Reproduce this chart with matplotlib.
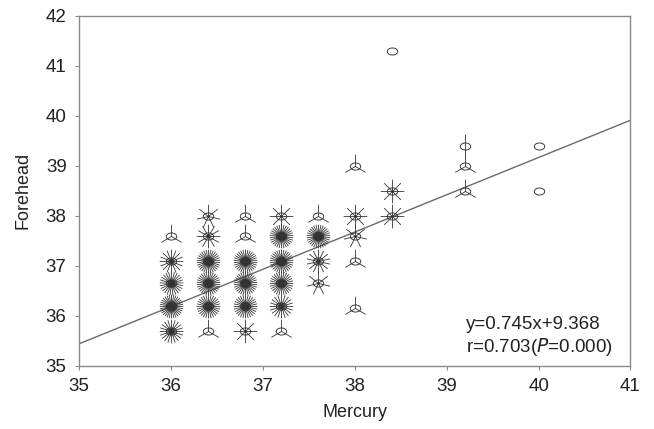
import numpy as np
import matplotlib
matplotlib.use("Agg")
import matplotlib.pyplot as plt
from matplotlib.path import Path

plt.rcParams["font.family"] = ["Liberation Sans", "DejaVu Sans"]

# sunflower cells: (mercury, forehead) and how many readings fall on each
mercury = [
    36.4, 36.8, 37.2, 37.6, 38.0, 38.4,
    36.0, 36.4, 36.8, 37.2, 37.6, 38.0,
    36.0, 36.4, 36.8, 37.2, 37.6, 38.0,
    36.0, 36.4, 36.8, 37.2, 37.6,
    36.0, 36.4, 36.8, 37.2, 38.0,
    36.0, 36.4, 36.8, 37.2,
    38.4, 39.2, 40.0,
    38.0, 39.2,
    39.2, 40.0,
    38.4,
]
forehead = [
    38.0, 38.0, 38.0, 38.0, 38.0, 38.0,
    37.6, 37.6, 37.6, 37.6, 37.6, 37.6,
    37.1, 37.1, 37.1, 37.1, 37.1, 37.1,
    36.65, 36.65, 36.65, 36.65, 36.65,
    36.2, 36.2, 36.2, 36.2, 36.15,
    35.7, 35.7, 35.7, 35.7,
    38.5, 38.5, 38.5,
    39.0, 39.0,
    39.4, 39.4,
    41.3,
]
counts = [
    7, 3, 8, 3, 8, 8,
    3, 12, 3, 30, 30, 7,
    16, 30, 30, 30, 14, 3,
    25, 30, 30, 28, 7,
    32, 28, 28, 20, 3,
    20, 3, 8, 3,
    8, 3, 1,
    3, 3,
    2, 1,
    1,
]

slope, intercept = 0.745, 9.368
eq_text = "y=0.745x+9.368"
r_text = r"r=0.703($\it{P}$=0.000)"


def petal_marker(n):
    verts, codes = [], []
    for k in range(n):
        a = np.pi / 2 + 2 * np.pi * k / n
        verts += [(0, 0), (np.cos(a), np.sin(a))]
        codes += [Path.MOVETO, Path.LINETO]
    return Path(verts, codes)


t = np.linspace(0, 2 * np.pi, 40)
oval = Path(np.column_stack([np.cos(t), 0.68 * np.sin(t)]))

fig = plt.figure(figsize=(6.54, 4.29), dpi=100)
ax = fig.add_axes([0.121, 0.147, 0.843, 0.816])

xs = np.array([35, 41])
ax.plot(xs, slope * xs + intercept, color="#6a6a6a", lw=1.0, zorder=1)

for x, y, n in zip(mercury, forehead, counts):
    ax.plot(x, y, marker=oval, ms=7.5, mfc="none", mec="#3a3a3a", mew=0.7,
            ls="none", zorder=3)
    if n > 1:
        ax.plot(x, y, marker=petal_marker(n), ms=17, mfc="none", mec="#333333",
                mew=0.6, ls="none", zorder=3)

ax.text(39.21, 35.83, eq_text, fontsize=13.5, color="#222222",
        ha="left", va="center")
ax.text(39.21, 35.37, r_text, fontsize=13.5, color="#222222",
        ha="left", va="center")

ax.set_xlim(35, 41)
ax.set_ylim(35, 42)
ax.set_xticks(range(35, 42))
ax.set_yticks(range(35, 43))
ax.set_xlabel("Mercury", fontsize=13, color="#222222", labelpad=6)
ax.set_ylabel("Forehead", fontsize=13, color="#222222", labelpad=10)
for s in ax.spines.values():
    s.set_color("#8a8a8a")
    s.set_linewidth(1.0)
ax.tick_params(direction="out", length=3, width=0.8, color="#8a8a8a",
               labelsize=13.5, labelcolor="#222222", pad=6)

fig.savefig("out.png", dpi=100)
